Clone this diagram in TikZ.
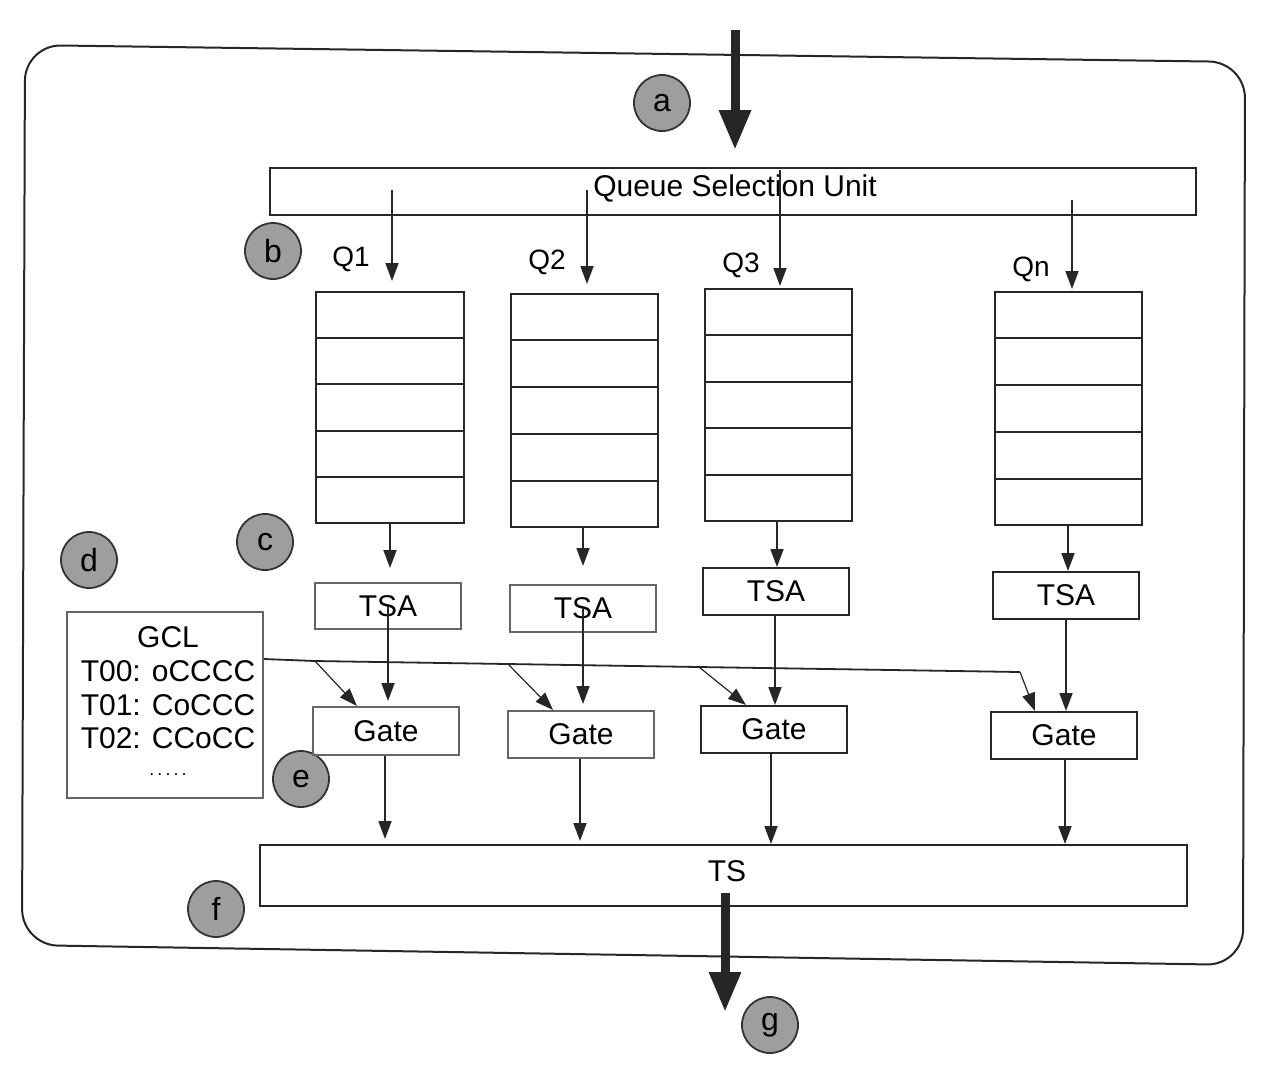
\documentclass[tikz,border=0pt]{standalone}
\usepackage{fontspec}
\setmainfont{Liberation Sans}
\usetikzlibrary{arrows.meta,fit,calc}
\begin{document}
\begin{tikzpicture}[x=0.5pt,y=-0.5pt,
  box/.style={draw=black!85, line width=1pt, inner sep=0pt, font=\fontsize{15}{18}\selectfont},
  lightbox/.style={box, draw=black!60},
  arr/.style={draw=black!85, line width=0.9pt, -{Triangle[length=9pt,width=6.5pt]}},
  thickarr/.style={draw=black!85, line width=4.5pt, -{Triangle[length=20pt,width=15pt]}},
  marker/.style={circle, draw=black!80, line width=0.9pt, fill=black!38, minimum size=28pt, inner sep=0pt, font=\fontsize{16}{18}\selectfont},
  qlabel/.style={font=\fontsize{14}{16}\selectfont},
  gcltext/.style={font=\fontsize{15}{17}\selectfont, align=center, inner sep=0pt},
]
\useasboundingbox (0,0) rectangle (1269,1084);
% outer frame
\draw[draw=black!85, line width=1pt, rounded corners=18pt] (25,45) -- (1245,62) -- (1243,965) -- (22,945) -- cycle;

% markers
\node[marker] (ma) at (662,103) {a};
\node[marker] (mb) at (273,251) {b};
\node[marker] (mc) at (265,542) {c};
\node[marker] (md) at (89,560) {d};
\node[marker] (me) at (301,779) {e};
\node[marker] (mf) at (216,909) {f};
\node[marker] (mg) at (770,1025) {g};

% queue selection unit
\node[box, fit={(270,168) (1196,215)}] (qsu) {};
\node[font=\fontsize{15}{18}\selectfont] (qsut) at (735,188) {Queue Selection Unit};

% queues
\node[box, fit={(316,292) (464,523)}] (q1) {};
\node[box, fit={(511,294) (658,527)}] (q2) {};
\node[box, fit={(705,289) (852,521)}] (q3) {};
\node[box, fit={(995,292) (1142,525)}] (qn) {};
\foreach \q in {q1,q2,q3,qn}
  \foreach \f in {0.2,0.4,0.6,0.8}
    \draw[draw=black!85, line width=1pt] ($(\q.north west)!\f!(\q.south west)$) -- ($(\q.north east)!\f!(\q.south east)$);

\node[qlabel] (l1) at (351,259) {Q1};
\node[qlabel] (l2) at (547,262) {Q2};
\node[qlabel] (l3) at (741,265) {Q3};
\node[qlabel] (l4) at (1031,269) {Qn};

% TSA boxes
\node[lightbox, fit={(315,583) (461,629)}] (t1) {};
\node[lightbox, fit={(510,585) (656,632)}] (t2) {};
\node[box, fit={(703,568) (849,615)}] (t3) {};
\node[box, fit={(993,572) (1139,619)}] (tn) {};
\node[font=\fontsize{15}{18}\selectfont] at (t1.center) {TSA};
\node[font=\fontsize{15}{18}\selectfont] at (t2.center) {TSA};
\node[font=\fontsize{15}{18}\selectfont] at (t3.center) {TSA};
\node[font=\fontsize{15}{18}\selectfont] at (tn.center) {TSA};

% Gate boxes
\node[lightbox, fit={(313,707) (459,755)}] (g1) {};
\node[lightbox, fit={(508,711) (654,758)}] (g2) {};
\node[box, fit={(701,706) (847,753)}] (g3) {};
\node[box, fit={(991,712) (1137,759)}] (gn) {};
\node[font=\fontsize{15}{18}\selectfont] at (g1.center) {Gate};
\node[font=\fontsize{15}{18}\selectfont] at (g2.center) {Gate};
\node[font=\fontsize{15}{18}\selectfont] at (g3.center) {Gate};
\node[font=\fontsize{15}{18}\selectfont] at (gn.center) {Gate};

% TS
\node[box, fit={(260,845) (1187,906)}] (ts) {};
\node[font=\fontsize{15}{18}\selectfont] (tst) at (727,871) {TS};

% GCL
\node[lightbox, fit={(67,612) (263,798)}] (gcl) {};
\node[gcltext] (gclt) at (168,637) {GCL};
\node[gcltext] (gcl0) at (168,671) {T00: oCCCC};
\node[gcltext] (gcl1) at (168,705) {T01: CoCCC};
\node[gcltext] (gcl2) at (168,738) {T02: CCoCC};
\node[gcltext] (gcld) at (168,775) {\fontsize{9}{10}\selectfont .\,.\,.\,.\,.};

% thick in/out arrows
\coordinate (inS) at (735,30);
\coordinate (inE) at (735,150);
\draw[thickarr] (inS) -- (inE);
\coordinate (outS) at (725,893);
\coordinate (outE) at (725,1012);
\draw[thickarr] (outS) -- (outE);

% QSU -> queues
\coordinate (s1) at (392,190); \coordinate (e1) at (392,281);
\coordinate (s2) at (587,190); \coordinate (e2) at (587,284);
\coordinate (s3) at (780,170); \coordinate (e3) at (780,286);
\coordinate (s4) at (1072,200); \coordinate (e4) at (1072,289);
\draw[arr] (s1) -- (e1);
\draw[arr] (s2) -- (e2);
\draw[arr] (s3) -- (e3);
\draw[arr] (s4) -- (e4);

% queues -> TSA
\draw[arr] (q1.south -| 390,0) -- (390,568);
\draw[arr] (q2.south -| 583,0) -- (583,566);
\draw[arr] (q3.south -| 777,0) -- (t3.north -| 777,0);
\draw[arr] (qn.south -| 1068,0) -- (tn.north -| 1068,0);

% TSA -> Gate
\draw[arr] (t1.center -| 388,0) -- (388,701);
\draw[arr] (t2.center -| 583,0) -- (583,704);
\draw[arr] (t3.south -| 775,0) -- (g3.north -| 775,0);
\draw[arr] (tn.south -| 1066,0) -- (gn.north -| 1066,0);

% Gate -> TS
\draw[arr] (g1.south -| 385,0) -- (385,839);
\draw[arr] (g2.south -| 580,0) -- (580,841);
\draw[arr] (g3.south -| 771,0) -- (ts.north -| 771,0);
\draw[arr] (gn.south -| 1065,0) -- (ts.north -| 1065,0);

% GCL control lines
\coordinate (b0) at (gcl.east |- 0,659);
\coordinate (b1) at (315,661);
\coordinate (b2) at (508,664);
\coordinate (b3) at (699,667);
\coordinate (b4) at (1020,672);
\draw[draw=black!85, line width=0.9pt] (b0) -- (b1) -- (b2) -- (b3) -- (b4);
\draw[arr, line width=0.6pt] (b1) -- (g1.north -| 357,0);
\draw[arr, line width=0.6pt] (b2) -- (g2.north -| 553,0);
\draw[arr, line width=0.6pt] (b3) -- (g3.north -| 746,0);
\draw[arr, line width=0.6pt] (b4) -- (gn.north -| 1035,0);
\end{tikzpicture}
\end{document}
